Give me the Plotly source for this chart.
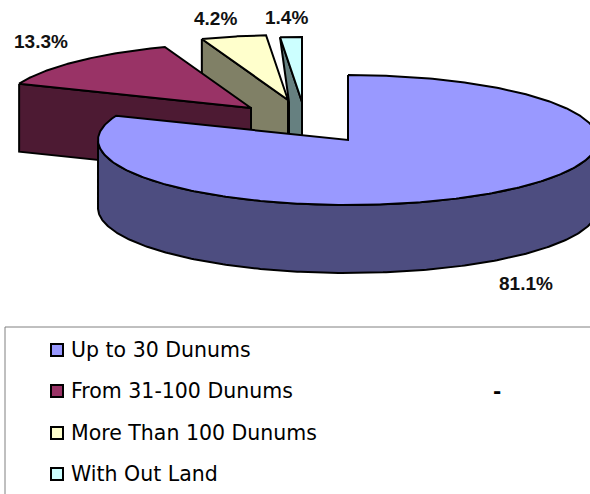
import numpy as np
import plotly.graph_objects as go

categories = ['Up to 30 Dunums', 'From 31-100 Dunums', 'More Than 100 Dunums', 'With Out Land']
values = [81.1, 13.3, 4.2, 1.4]
value_labels = ['81.1%', '13.3%', '4.2%', '1.4%']
top_colors = ['#9999FF', '#993366', '#FFFFCC', '#CCFFFF']
side_colors = ['#4D4D80', '#4D1A33', '#808066', '#668080']

# pie geometry in page pixels (tilted ellipse + how far each slice is pulled out)
cx, cy = 348, 140
rx, ry = 250, 65
depth = 68
pull_x = [0, -97, -60, -46]
pull_y = [0, -32, -40, -38]

edges = np.cumsum([0] + values) / sum(values) * 2 * np.pi


def rim(i, n=120):
    a = np.linspace(edges[i], edges[i + 1], n)
    return cx + pull_x[i] + rx * np.sin(a), cy + pull_y[i] - ry * np.cos(a)


def apex(i):
    return cx + pull_x[i], cy + pull_y[i]


def poly(x, y, fill):
    return go.Scatter(x=list(x) + [x[0]], y=list(y) + [y[0]], mode='lines', fill='toself',
                      fillcolor=fill, line=dict(color='black', width=2), hoverinfo='skip',
                      showlegend=False)


def cut_wall(i, end, fill):
    x, y = rim(i)
    ax, ay = apex(i)
    px, py = x[end], y[end]
    return poly([px, ax, ax, px], [py, ay, ay + depth, py + depth], fill)


fig = go.Figure()

# back slices first, front slice last
x3, y3 = rim(3)
ax3, ay3 = apex(3)
ax2, ay2 = apex(2)
fig.add_trace(poly([x3[0], ax3, ax3, ax2 + 1, ax2 + 1],
                   [y3[0], ay3, ay3 + depth, ay3 + depth, ay2 + 2], side_colors[3]))
fig.add_trace(poly(list(x3) + [ax3], list(y3) + [ay3], top_colors[3]))

fig.add_trace(cut_wall(2, 0, side_colors[2]))
x2, y2 = rim(2)
fig.add_trace(poly(list(x2) + [ax2], list(y2) + [ay2], top_colors[2]))

fig.add_trace(cut_wall(1, 0, side_colors[1]))
x1, y1 = rim(1)
ax1, ay1 = apex(1)
fig.add_trace(poly(list(x1) + [ax1], list(y1) + [ay1], top_colors[1]))

# outer wall of the big slice, only the front half of the rim shows
x0, y0 = rim(0, 400)
front = y0 >= cy
wx, wy = x0[front], y0[front]
fig.add_trace(poly(list(wx) + list(wx[::-1]), list(wy) + list((wy + depth)[::-1]), side_colors[0]))
fig.add_trace(poly(list(x0) + [cx], list(y0) + [cy], top_colors[0]))

# value labels
label_x = [526, 41, 215, 286]
label_y = [283, 41, 18, 17]
for t, lx, ly in zip(value_labels, label_x, label_y):
    fig.add_annotation(x=lx, y=ly, text=f'<b>{t}</b>', showarrow=False,
                       font=dict(family='Liberation Sans', size=19, color='#111111'))

# legend drawn by hand so the rows keep the wide spacing
legend_y = [350, 391, 433, 474]
fig.add_trace(go.Scatter(x=[57] * 4, y=legend_y, mode='markers', hoverinfo='skip', showlegend=False,
                         marker=dict(symbol='square', size=12, color=top_colors,
                                     line=dict(color='black', width=2))))
for name, ly in zip(categories, legend_y):
    fig.add_annotation(x=69, y=ly, text=name, showarrow=False, xanchor='left',
                       font=dict(family='DejaVu Sans', size=20.5, color='black'))
fig.add_annotation(x=497, y=391, text='<b>-</b>', showarrow=False,
                   font=dict(family='DejaVu Sans', size=20, color='black'))
fig.add_shape(type='rect', x0=5, y0=327, x1=600, y1=510, line=dict(color='#808080', width=1))

fig.update_xaxes(range=[0, 590], visible=False, fixedrange=True)
fig.update_yaxes(range=[494, 0], visible=False, fixedrange=True)
fig.update_layout(width=590, height=494, margin=dict(l=0, r=0, t=0, b=0),
                  paper_bgcolor='white', plot_bgcolor='white', showlegend=False)
fig.write_html("out.html", config=dict(displayModeBar=False),
               post_script="document.body.style.margin='0';")
